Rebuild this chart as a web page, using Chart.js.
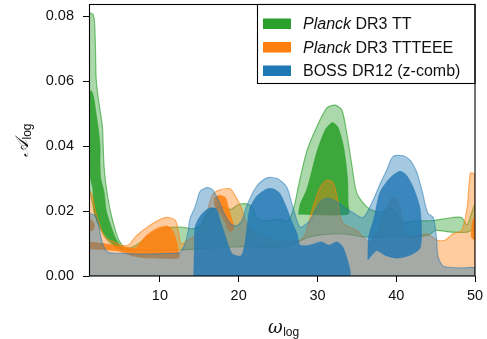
<!DOCTYPE html>
<html>
<head>
<meta charset="utf-8">
<script src="https://cdn.jsdelivr.net/npm/chart.js@4.4.1/dist/chart.umd.min.js"></script>
<style>
  html, body { margin: 0; padding: 0; background: #fff; }
</style>
</head>
<body>
<canvas id="chart" width="487" height="339"></canvas>
<script>
// contour outlines, as [omega_log, A_log] vertices
// Planck DR3 TT
const ttOuter = [[1,0.081],[1.5,0.0805],[1.7,0.078],[1.8,0.072],[1.85,0.066],[1.9,0.061],[2.1,0.056],[2.4,0.051],[2.7,0.046],[2.8,0.040],[2.9,0.034],[3.1,0.029],[3.4,0.024],[3.8,0.019],[4.3,0.0145],[4.8,0.011],[5.5,0.0088],[6.3,0.0087],[7.3,0.0100],[8.2,0.0115],[9.1,0.013],[10.8,0.0148],[13,0.015],[14,0.0145],[15.1,0.0154],[16,0.019],[16.7,0.0206],[18,0.0212],[19,0.0205],[20,0.022],[21,0.0222],[21.8,0.021],[22.3,0.0178],[23.6,0.017],[25.2,0.0175],[26.3,0.017],[27,0.021],[27.8,0.030],[28.7,0.0388],[29.9,0.0458],[31.2,0.0517],[32.2,0.0526],[33.1,0.0511],[33.8,0.0428],[34.4,0.0335],[35,0.0255],[36.3,0.0212],[37.9,0.0195],[39.2,0.021],[40.9,0.0166],[42.5,0.017],[44.3,0.017],[47.2,0.018],[48.3,0.018],[49,0.0157],[49.5,0.019],[49.8,0.021],[50,0.022],
  [50,0.015],[49,0.0135],[47,0.0135],[45,0.014],[44,0.0125],[40,0.012],[36,0.012],[33,0.013],[29,0.012],[26,0.009],[20,0.009],[14,0.0082],[9,0.0078],[6,0.0079],[5,0.0082],[4,0.0095],[3,0.012],[2,0.017],[1.3,0.024],[1,0.028]];
const ttInnerLeft = [[1,0.056],[1.3,0.057],[1.6,0.055],[1.9,0.050],[2.2,0.045],[2.4,0.040],[2.4,0.035],[2.5,0.030],[2.9,0.026],[3.2,0.020],[3.7,0.016],[4.3,0.012],[4.9,0.0095],[5.3,0.0085],[4.8,0.0084],[4.4,0.009],[3.2,0.012],[2.2,0.016],[1.6,0.020],[1.5,0.0265],[1.2,0.030],[1,0.040]];
const ttInnerPeak = [[27.6,0.019],[27.8,0.022],[28.7,0.027],[29.9,0.038],[31,0.045],[31.9,0.0472],[32.6,0.0458],[33.3,0.040],[33.8,0.0305],[33.9,0.022],[33.9,0.019]];

// Planck DR3 TTTEEE
const teOuter = [[1,0],[1,0.026],[1.4,0.025],[1.8,0.020],[2.2,0.017],[2.6,0.014],[3.2,0.0115],[4.2,0.0105],[5,0.0095],[6,0.0095],[7,0.0123],[8.6,0.0154],[10.4,0.0178],[11.2,0.018],[12,0.017],[12.4,0.013],[12.7,0.0098],[13.5,0.011],[14.2,0.012],[15,0.014],[16,0.020],[16.7,0.025],[17.6,0.0265],[18.9,0.0268],[19.5,0.025],[20.4,0.0206],[21,0.016],[22,0.0135],[23.5,0.012],[25,0.0105],[26.1,0.0105],[27.8,0.011],[28.5,0.013],[29.4,0.021],[30.3,0.027],[31.2,0.0295],[32,0.0286],[32.6,0.023],[32.9,0.018],[33.3,0.016],[34.1,0.015],[35,0.014],[35.8,0.012],[36.7,0.0105],[37.5,0.013],[38.2,0.017],[39,0.022],[39.5,0.024],[40.1,0.0234],[40.7,0.018],[40.9,0.013],[42.1,0.012],[43.9,0.013],[45.2,0.011],[46.2,0.011],[47.2,0.013],[48.3,0.014],[49,0.021],[49.4,0.0316],[49.8,0.0316],[50,0.030],[50,0]];
const teInnerA = [[1,0.014],[1,0.0175],[1.4,0.017],[1.7,0.0155],[1.5,0.014]];
const teInnerB = [[1,0.0083],[1,0.0103],[2,0.0102],[3,0.0099],[4,0.0095],[4.8,0.0092],[5.8,0.0088],[6.5,0.0086],[7,0.0088],[7.6,0.0105],[8.2,0.0123],[9.5,0.0145],[10.8,0.0154],[11.4,0.0148],[11.8,0.013],[12.2,0.010],[12.3,0.0083],[12.4,0.0056],[10,0.0055],[8,0.0056],[6.5,0.0062],[5.5,0.0072],[4.5,0.0078],[3,0.0081]];
const teInnerC = [[16.9,0.024],[17.5,0.0248],[18.3,0.0242],[18.7,0.021],[18.9,0.0194],[19.4,0.0148],[18.9,0.0136],[18.4,0.016],[17.9,0.0185],[17,0.0215]];
const teInnerD = [[49.5,0.012],[49.7,0.017],[50,0.018],[50,0.011]];

// BOSS DR12 (z-comb)
const bossOuter = [[1,0],[1,0.019],[1.8,0.0185],[2.2,0.016],[2.5,0.012],[2.9,0.009],[3.5,0.0072],[5,0.007],[7,0.0068],[9,0.0068],[11,0.007],[12.5,0.0072],[13.2,0.010],[13.6,0.014],[13.8,0.0175],[14.5,0.0215],[15.1,0.026],[16,0.0272],[16.7,0.0265],[17.4,0.0235],[18.2,0.019],[19,0.016],[19.8,0.0155],[20.5,0.0175],[21,0.0215],[22.3,0.0277],[23.6,0.0302],[24.9,0.030],[26.1,0.0274],[26.9,0.021],[27.8,0.015],[29,0.017],[30.3,0.0225],[31.2,0.024],[32.5,0.0228],[33.5,0.021],[34.5,0.0195],[35.8,0.018],[37,0.023],[38,0.0286],[38.8,0.0326],[39.6,0.0368],[40.9,0.037],[41.8,0.0355],[42.6,0.032],[43.3,0.026],[44,0.0194],[44.7,0.018],[45.1,0.012],[45.3,0.006],[46,0.003],[48.5,0.0025],[50,0.0025],[50,0]];
const bossInnerMid = [[14.3,0],[14.4,0.011],[14.5,0.0154],[15.3,0.019],[16.4,0.021],[17.2,0.0205],[17.6,0.0175],[18.3,0.0123],[18.6,0.010],[19.2,0.0068],[20.3,0.0062],[20.8,0.010],[21.4,0.0206],[22.3,0.0246],[23.6,0.0268],[24.4,0.0268],[25.2,0.0255],[26,0.0215],[26.7,0.017],[27.4,0.013],[27.8,0.0095],[29,0.0095],[30.5,0.0105],[31.5,0.0095],[32.5,0.0105],[33.2,0.009],[33.8,0.005],[34,0]];
const bossInnerRight = [[36.4,0.005],[36.5,0.012],[37.2,0.018],[37.9,0.0255],[38.8,0.029],[39.6,0.031],[40.5,0.0322],[41.3,0.031],[42.2,0.027],[43,0.021],[43.2,0.014],[43,0.0085],[41.5,0.0062],[40,0.0055],[38.5,0.0065],[37.5,0.0078]];

const legendNames = ["Planck DR3 TT", "Planck DR3 TTTEEE", "BOSS DR12 (z-comb)"];
const legendColors = ["#2ca02c", "#ff7f0e", "#1f77b4"];
const xTicks = [10, 20, 30, 40, 50];
const yTicks = [0, 0.02, 0.04, 0.06, 0.08];

function pts(list) {
  const out = list.map((p) => ({ x: p[0], y: p[1] }));
  out.push({ x: list[0][0], y: list[0][1] });
  return out;
}

function contour(list, fillColor, lineColor, lineWidth, order) {
  return {
    data: pts(list),
    showLine: true,
    fill: "shape",
    backgroundColor: fillColor,
    borderColor: lineColor,
    borderWidth: lineWidth,
    pointRadius: 0,
    tension: 0.25,
    order: order,
  };
}

const datasets = [
  contour(ttOuter, "rgba(44,160,44,0.40)", "rgba(44,160,44,0.65)", 1.2, 20),
  contour(ttInnerLeft, "rgba(44,160,44,0.88)", "rgba(44,160,44,0.9)", 0.6, 19),
  contour(ttInnerPeak, "rgba(44,160,44,0.88)", "rgba(44,160,44,0.9)", 0.6, 19),
  contour(teOuter, "rgba(255,127,14,0.40)", "rgba(255,127,14,0.6)", 1.2, 15),
  contour(teInnerA, "rgba(255,127,14,0.85)", "rgba(255,127,14,0.9)", 0.6, 14),
  contour(teInnerB, "rgba(255,127,14,0.85)", "rgba(255,127,14,0.9)", 0.6, 14),
  contour(teInnerC, "rgba(255,127,14,0.85)", "rgba(255,127,14,0.9)", 0.6, 14),
  contour(teInnerD, "rgba(255,127,14,0.85)", "rgba(255,127,14,0.9)", 0.6, 14),
  contour(bossOuter, "rgba(31,119,180,0.40)", "rgba(31,119,180,0.5)", 1.2, 10),
  contour(bossInnerMid, "rgba(31,119,180,0.8)", "rgba(31,119,180,0.85)", 0.6, 9),
  contour(bossInnerRight, "rgba(31,119,180,0.8)", "rgba(31,119,180,0.85)", 0.6, 9),
];

const decorations = {
  id: "decorations",
  afterDraw(chart) {
    const ctx = chart.ctx;
    const a = chart.chartArea;
    ctx.save();
    // frame round the axes
    ctx.strokeStyle = "#000";
    ctx.lineWidth = 1.1;
    ctx.strokeRect(a.left + 0.5, a.top + 0.5, a.right - a.left - 0.5, a.bottom - a.top - 0.5);

    // legend
    ctx.fillStyle = "#fff";
    ctx.fillRect(258, a.top + 1, a.right - 259, 79);
    ctx.strokeRect(257.5, a.top + 0.5, a.right - 257.5, 79);
    const rowY = [23.5, 47, 70.5];
    legendNames.forEach((name, i) => {
      ctx.fillStyle = legendColors[i];
      ctx.fillRect(263, rowY[i] - 5, 28, 10.5);
      ctx.fillStyle = "#111";
      ctx.textBaseline = "alphabetic";
      ctx.textAlign = "left";
      let x = 303;
      let rest = name;
      if (name.startsWith("Planck")) {
        ctx.font = "italic 16px 'Liberation Sans'";
        ctx.fillText("Planck", x, rowY[i] + 5.5);
        x += ctx.measureText("Planck ").width;
        rest = name.slice(7);
      }
      ctx.font = "16px 'Liberation Sans'";
      ctx.fillText(rest, x, rowY[i] + 5.5);
    });

    // axis titles
    ctx.fillStyle = "#111";
    ctx.font = "italic 18px 'DejaVu Serif'";
    ctx.fillText("ω", 268, 333);
    const w = ctx.measureText("ω").width;
    ctx.font = "12px 'Liberation Sans'";
    ctx.fillText("log", 268 + w + 0.5, 336);

    ctx.translate(28, 157);
    ctx.rotate(-Math.PI / 2);
    ctx.font = "italic 18px 'DejaVu Serif'";
    ctx.fillText("𝒜", 0, 0);
    const wa = ctx.measureText("𝒜").width;
    ctx.font = "12px 'Liberation Sans'";
    ctx.fillText("log", wa + 0.5, 3);
    ctx.restore();
  },
};

function noPad(s) {
  s.paddingTop = 0;
  s.paddingBottom = 0;
  s.paddingLeft = 0;
  s.paddingRight = 0;
}

new Chart(document.getElementById("chart"), {
  type: "scatter",
  data: { datasets: datasets },
  options: {
    responsive: false,
    animation: false,
    devicePixelRatio: 1,
    layout: { padding: { left: 0, right: 12, top: 4, bottom: 0 } },
    plugins: { legend: { display: false }, tooltip: { enabled: false } },
    scales: {
      x: {
        type: "linear",
        min: 1,
        max: 50,
        afterBuildTicks: (s) => { s.ticks = xTicks.map((v) => ({ value: v })); },
        afterFit: (s) => { s.height = 63; noPad(s); },
        grid: { drawOnChartArea: false, drawTicks: true, tickLength: 6, tickColor: "#000" },
        border: { display: false },
        ticks: { color: "#111", padding: 5, maxRotation: 0, autoSkip: false, font: { family: "Liberation Sans", size: 14.5 } },
      },
      y: {
        type: "linear",
        min: 0,
        max: 0.0837,
        afterBuildTicks: (s) => { s.ticks = yTicks.map((v) => ({ value: v })); },
        afterFit: (s) => { s.width = 89; noPad(s); },
        grid: { drawOnChartArea: false, drawTicks: true, tickLength: 6, tickColor: "#000" },
        border: { display: false },
        ticks: { color: "#111", padding: 9, callback: (v) => v.toFixed(2), font: { family: "Liberation Sans", size: 14.5 } },
      },
    },
  },
  plugins: [decorations],
});
</script>
</body>
</html>
